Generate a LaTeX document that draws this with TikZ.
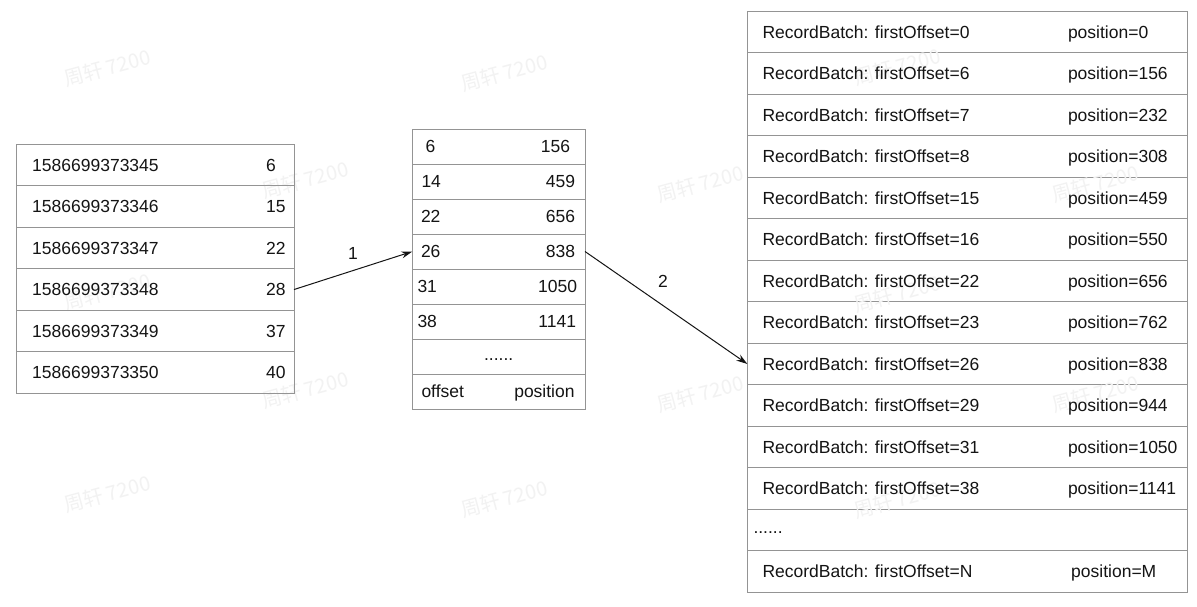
\documentclass[tikz,border=0pt]{standalone}
\usepackage{fontspec}
\setmainfont{Liberation Sans}
\newfontfamily\cjk{Noto Sans CJK SC}
\usetikzlibrary{arrows.meta,calc}
\definecolor{bordergray}{RGB}{148,148,148}
\definecolor{wmgray}{RGB}{242,242,242}
\definecolor{ink}{RGB}{20,20,20}
\begin{document}
\begin{tikzpicture}[x=1pt,y=-1pt,
  cell/.style={draw=bordergray, line width=1pt, inner sep=0pt, outer sep=0pt, anchor=north west, fill=white},
  txt/.style={anchor=base west, inner sep=0pt, font=\fontsize{17.5}{20}\selectfont, text=ink},
  rtxt/.style={anchor=base east, inner sep=0pt, font=\fontsize{17.5}{20}\selectfont, text=ink},
  ctxt/.style={anchor=base, inner sep=0pt, font=\fontsize{17.5}{20}\selectfont, text=ink},
  lbl/.style={anchor=center, inner sep=0pt, font=\fontsize{17.5}{20}\selectfont, text=ink},
  wm/.style={font=\cjk\fontsize{20}{24}\selectfont, text=wmgray, rotate=15, inner sep=0pt},
  arr/.style={-{Stealth[length=11pt,width=7pt]}, line width=1pt, ink}
]
\useasboundingbox[fill=white] (0,0) rectangle (1197,606);
% watermarks hidden behind the right table
\node[wm] (wB2) at (700,184) {周轩 7200};
\node[wm] (wD2) at (700,394) {周轩 7200};
% watermarks under the texts
\foreach \n/\x/\y in {A1/107/68, A2/504/73, B1/305/180, C1/107/292, D1/305/390, E1/107/494, E2/504/499} {
  \node[wm] (w\n) at (\x,\y) {周轩 7200};
}
% left table
\foreach \i/\a/\b in {1/1586699373345/6, 2/1586699373346/15, 3/1586699373347/22, 4/1586699373348/28, 5/1586699373349/37, 6/1586699373350/40} {
  \node[cell, fill=none, minimum width=278pt, minimum height=41.58pt] (L\i) at (16,{144+(\i-1)*41.58}) {};
  \node[txt] (La\i) at ($(L\i.west)+(16,6.3)$) {\a};
  \node[txt] (Lb\i) at ($(L\i.west)+(250,6.3)$) {\b};
}
% middle table
\foreach \i/\a/\la/\b/\rb in {1/6/13/156/158, 2/14/9/459/163, 3/22/8.5/656/163, 4/26/8.5/838/163, 5/31/5/1050/165, 6/38/5/1141/164, 8/offset/9/position/162.5} {
  \node[cell, fill=none, minimum width=172.7pt, minimum height=35pt] (M\i) at (412.3,{129+(\i-1)*35}) {};
  \node[txt] (Ma\i) at ($(M\i.west)+(\la,6.3)$) {\a};
  \node[rtxt] (Mb\i) at ($(M\i.west)+(\rb,6.3)$) {\b};
}
\node[cell, fill=none, minimum width=172.7pt, minimum height=35pt] (M7) at (412.3,339) {};
\node[ctxt] (Mdots) at ($(M7.center)+(0,4)$) {......};
% right table
\foreach \i/\a/\b in {1/0/0, 2/6/156, 3/7/232, 4/8/308, 5/15/459, 6/16/550, 7/22/656, 8/23/762, 9/26/838, 10/29/944, 11/31/1050, 12/38/1141} {
  \node[cell, minimum width=440.4pt, minimum height=41.52pt] (R\i) at (747.3,{11+(\i-1)*41.52}) {};
}
\node[cell, minimum width=440.4pt, minimum height=41.52pt] (R13) at (747.3,{11+12*41.52}) {};
\node[cell, minimum width=440.4pt, minimum height=41.52pt] (R14) at (747.3,{11+13*41.52}) {};
% watermarks inside the right table, under its texts
\foreach \n/\x/\y in {A3/897/67, B3/1095/184, C3/897/294, D3/1095/394, E3/897/500} {
  \node[wm] (w\n) at (\x,\y) {周轩 7200};
}
\foreach \i/\a/\b in {1/0/0, 2/6/156, 3/7/232, 4/8/308, 5/15/459, 6/16/550, 7/22/656, 8/23/762, 9/26/838, 10/29/944, 11/31/1050, 12/38/1141} {
  \node[txt] (Ra\i) at ($(R\i.west)+(15,6.3)$) {RecordBatch: firstOffset=\a};
  \node[txt] (Rb\i) at ($(R\i.west)+(320.5,6.3)$) {position=\b};
}
\node[txt] (Rdots) at ($(R13.west)+(6,3.5)$) {......};
\node[txt] (Ra14) at ($(R14.west)+(15,6.3)$) {RecordBatch: firstOffset=N};
\node[txt] (Rb14) at ($(R14.west)+(323.7,6.3)$) {position=M};
% arrows
\draw[arr] (L4.east) -- (M4.west);
\node[lbl] (lab1) at (353,253) {1};
\draw[arr] (M4.east) -- (R9.west);
\node[lbl] (lab2) at (663,281) {2};
\end{tikzpicture}
\end{document}
